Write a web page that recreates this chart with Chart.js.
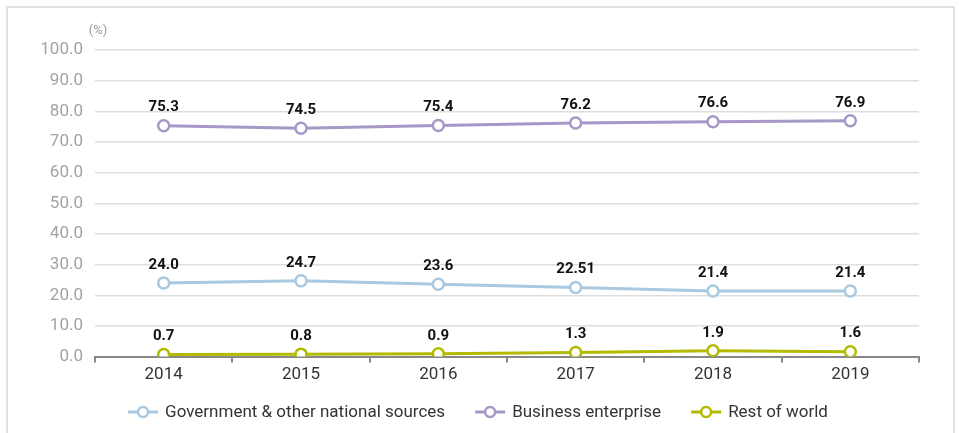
<!DOCTYPE html>
<html>
<head>
<meta charset="utf-8">
<script src="https://cdn.jsdelivr.net/npm/chart.js@4"></script>
<style>
  html, body { margin: 0; padding: 0; background: #fff; }
  #wrap { position: relative; width: 959px; height: 433px; overflow: hidden; }
  #frame { position: absolute; left: 6px; top: 6px; width: 949px; height: 440px; border: 2px solid #e2e2e2; box-sizing: border-box; }
  canvas { position: absolute; left: 0; top: 0; }
</style>
</head>
<body>
<div id="wrap">
  <div id="frame"></div>
  <canvas id="c" width="959" height="433"></canvas>
</div>
<script>
// Funding shares by source, %
const years = ['2014', '2015', '2016', '2017', '2018', '2019'];
const government = [24.0, 24.7, 23.6, 22.51, 21.4, 21.4];
const business = [75.3, 74.5, 75.4, 76.2, 76.6, 76.9];
const restOfWorld = [0.7, 0.8, 0.9, 1.3, 1.9, 1.6];
const govLabels = ['24.0', '24.7', '23.6', '22.51', '21.4', '21.4'];
const busLabels = ['75.3', '74.5', '75.4', '76.2', '76.6', '76.9'];
const rowLabels = ['0.7', '0.8', '0.9', '1.3', '1.9', '1.6'];
const yTicks = [0, 10, 20, 30, 40, 50, 60, 70, 80, 90, 100];

const FONT = 'Roboto, "Liberation Sans", sans-serif';

function series(label, data, labels, color) {
  return {
    label, data, valueLabels: labels,
    borderColor: color, backgroundColor: '#fff',
    borderWidth: 3, pointRadius: 5.5, pointBorderWidth: 2.5,
    pointBackgroundColor: '#fff', pointBorderColor: color,
    tension: 0
  };
}

// value text above every point
const valueLabelPlugin = {
  id: 'valueLabels',
  afterDatasetsDraw(chart) {
    const ctx = chart.ctx;
    ctx.save();
    ctx.font = 'bold 15px ' + FONT;
    ctx.fillStyle = '#111';
    ctx.textAlign = 'center';
    ctx.textBaseline = 'middle';
    chart.data.datasets.forEach((ds, i) => {
      chart.getDatasetMeta(i).data.forEach((pt, j) => {
        ctx.fillText(ds.valueLabels[j], pt.x, pt.y - 18);
      });
    });
    ctx.restore();
  }
};

// unit caption over the value axis
const unitPlugin = {
  id: 'unitLabel',
  afterDraw(chart) {
    const ctx = chart.ctx;
    ctx.save();
    ctx.font = '13px ' + FONT;
    ctx.fillStyle = '#999';
    ctx.textAlign = 'center';
    ctx.textBaseline = 'middle';
    ctx.fillText('(%)', 98, 31);
    ctx.restore();
  }
};

// centred legend row: line-and-circle icon followed by the series name
const lineLegendPlugin = {
  id: 'lineLegend',
  afterDraw(chart) {
    const ctx = chart.ctx;
    const iconW = 30, iconGap = 7, itemGap = 30, y = 412;
    ctx.save();
    ctx.font = '17px ' + FONT;
    const items = chart.data.datasets.map(ds => ({
      ds, w: iconW + iconGap + ctx.measureText(ds.label).width
    }));
    const total = items.reduce((s, it) => s + it.w, 0) + itemGap * (items.length - 1);
    let x = 478 - total / 2;
    items.forEach(({ ds, w }) => {
      ctx.strokeStyle = ds.borderColor;
      ctx.lineWidth = 3;
      ctx.beginPath(); ctx.moveTo(x, y); ctx.lineTo(x + iconW, y); ctx.stroke();
      ctx.fillStyle = '#fff';
      ctx.lineWidth = 2.5;
      ctx.beginPath(); ctx.arc(x + iconW / 2, y, 5, 0, Math.PI * 2); ctx.fill(); ctx.stroke();
      ctx.fillStyle = '#333';
      ctx.textAlign = 'left';
      ctx.textBaseline = 'middle';
      ctx.fillText(ds.label, x + iconW + iconGap, y + 1);
      x += w + itemGap;
    });
    ctx.restore();
  }
};

new Chart(document.getElementById('c'), {
  type: 'line',
  data: {
    labels: years,
    datasets: [
      series('Government & other national sources', government, govLabels, '#a8c9df'),
      series('Business enterprise', business, busLabels, '#a698c7'),
      series('Rest of world', restOfWorld, rowLabels, '#b3bb00')
    ]
  },
  options: {
    responsive: false,
    animation: false,
    layout: { padding: { top: 50, right: 40, bottom: 46, left: 0 } },
    plugins: {
      tooltip: { enabled: false },
      legend: { display: false }
    },
    scales: {
      x: {
        offset: true,
        grid: { display: true, drawOnChartArea: false, drawTicks: true, tickLength: 6, color: '#888', lineWidth: 2, offset: true },
        border: { display: true, color: '#888', width: 2 },
        ticks: { font: { family: FONT, size: 17 }, color: '#333', padding: 2 }
      },
      y: {
        min: 0, max: 100,
        afterBuildTicks(axis) { axis.ticks = yTicks.map(v => ({ value: v })); },
        afterFit(axis) { axis.width = 95; },
        grid: { color: '#dedede', lineWidth: 1.5, drawTicks: false },
        border: { display: false },
        ticks: {
          font: { family: FONT, size: 17 }, color: '#a3a3a3', padding: 12,
          callback: v => v.toFixed(1)
        }
      }
    }
  },
  plugins: [valueLabelPlugin, unitPlugin, lineLegendPlugin]
});
</script>
</body>
</html>
